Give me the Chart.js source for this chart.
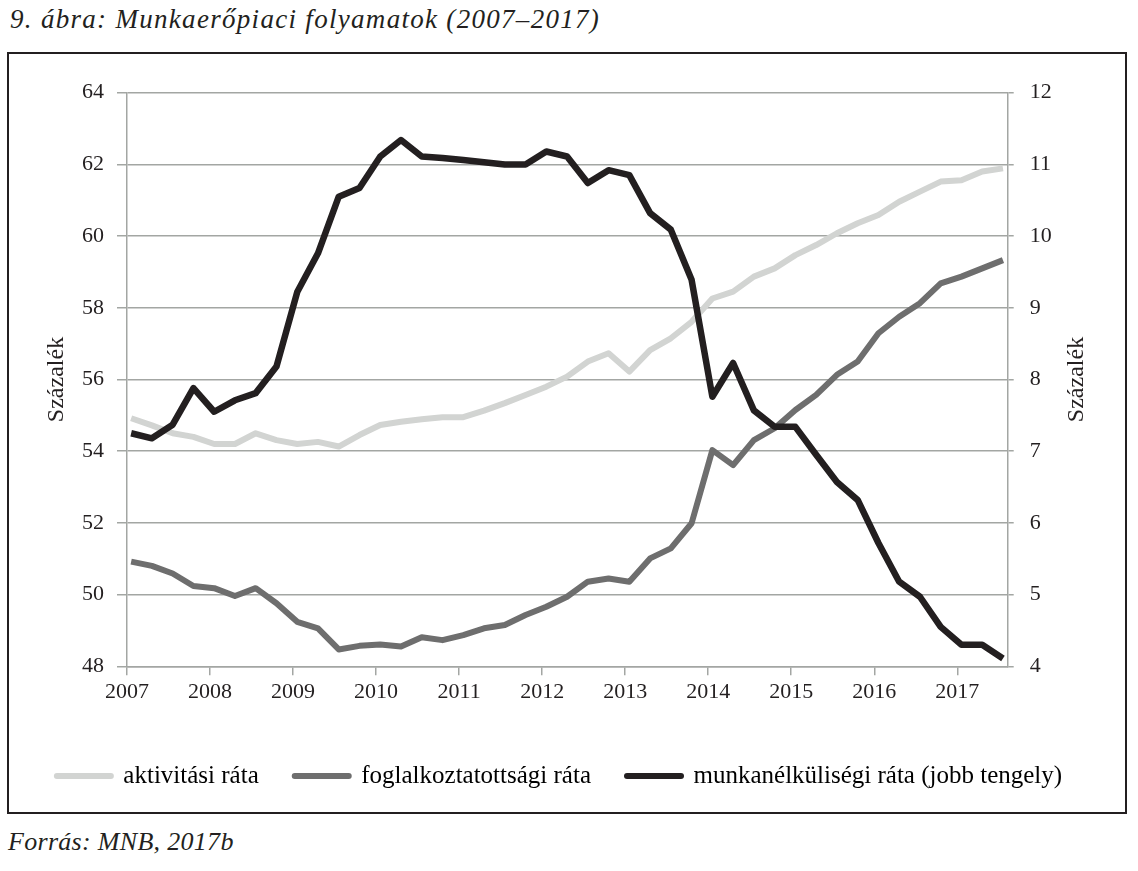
<!DOCTYPE html>
<html lang="hu">
<head>
<meta charset="utf-8">
<title>Munkaerőpiaci folyamatok (2007–2017)</title>
<script src="https://cdn.jsdelivr.net/npm/chart.js@4.4.0/dist/chart.umd.min.js"></script>
<style>
  body { margin: 0; background: #fff; width: 1138px; height: 871px; position: relative;
         font-family: "Liberation Serif", "Times New Roman", serif; color: #231f20; }
  .title { position: absolute; left: 10px; top: 4px; font-style: italic; font-size: 27px; letter-spacing: 1.3px; }
  .frame { position: absolute; left: 7px; top: 52px; width: 1116px; height: 758px; border: 2px solid #231f20; }
  .source { position: absolute; left: 8px; top: 827px; font-style: italic; font-size: 26px; letter-spacing: 0.3px; }
  canvas { display: block; }
</style>
</head>
<body>
<div class="title">9. ábra: Munkaerőpiaci folyamatok (2007–2017)</div>
<div class="frame"><canvas id="myChart" width="1116" height="758"></canvas></div>
<div class="source">Forrás: MNB, 2017b</div>

<script>
// quarterly data, 2007 Q1 - 2017 Q3
var quarters = [];
for (var yr = 2007; yr <= 2017; yr++) {
  for (var q = 1; q <= 4; q++) {
    if (quarters.length < 43) quarters.push({ year: yr, q: q });
  }
}

var years = [2007, 2008, 2009, 2010, 2011, 2012, 2013, 2014, 2015, 2016, 2017];
var leftTicks = [48, 64, 2];   // min, max, step
var rightTicks = [4, 12, 1];

var seriesNames = ['aktivitási ráta', 'foglalkoztatottsági ráta', 'munkanélküliségi ráta (jobb tengely)'];
var axisTitle = 'Százalék';

var activityRate = [
  54.92, 54.72, 54.50, 54.40, 54.20, 54.20, 54.50, 54.31, 54.20, 54.26, 54.13,
  54.45, 54.73, 54.82, 54.89, 54.95, 54.95, 55.13, 55.34, 55.57, 55.80, 56.08,
  56.50, 56.73, 56.22, 56.82, 57.15, 57.61, 58.26, 58.45, 58.87, 59.10, 59.47,
  59.75, 60.08, 60.36, 60.59, 60.96, 61.24, 61.52, 61.56, 61.80, 61.89
];
var employmentRate = [
  50.92, 50.80, 50.59, 50.24, 50.18, 49.96, 50.18, 49.76, 49.24, 49.06, 48.47,
  48.57, 48.61, 48.55, 48.81, 48.73, 48.87, 49.06, 49.15, 49.43, 49.66, 49.94,
  50.36, 50.45, 50.36, 51.01, 51.29, 51.99, 54.03, 53.61, 54.31, 54.64, 55.15,
  55.57, 56.13, 56.50, 57.29, 57.75, 58.13, 58.68, 58.87, 59.10, 59.33
];
var unemploymentRate = [
  7.25, 7.18, 7.37, 7.88, 7.55, 7.71, 7.81, 8.18, 9.22, 9.76, 10.55,
  10.67, 11.11, 11.34, 11.11, 11.09, 11.06, 11.03, 11.00, 11.00, 11.18, 11.11,
  10.74, 10.92, 10.85, 10.32, 10.09, 9.39, 7.76, 8.23, 7.57, 7.34, 7.34,
  6.95, 6.57, 6.32, 5.72, 5.18, 4.97, 4.55, 4.30, 4.30, 4.11
];

var textColor = '#231f20';
var gridColor = '#a3a6a3';

function toPoints(values) {
  return values.map(function (v, i) {
    var p = quarters[i];
    return { x: p.year + (p.q - 1) / 4 + 0.05, y: v };
  });
}

Chart.defaults.font.family = '"Liberation Serif", "Times New Roman", serif';
Chart.defaults.color = textColor;

// right axis title reads bottom-to-top, like the left one
var rightTitle = {
  id: 'rightTitle',
  afterDraw: function (chart) {
    var ctx = chart.ctx, area = chart.chartArea;
    ctx.save();
    ctx.translate(chart.scales.y1.left + 69, (area.top + area.bottom) / 2);
    ctx.rotate(-Math.PI / 2);
    ctx.font = '24px "Liberation Serif"';
    ctx.fillStyle = textColor;
    ctx.textAlign = 'center';
    ctx.textBaseline = 'middle';
    ctx.fillText(axisTitle, 0, 0);
    ctx.restore();
  }
};

var ctx = document.getElementById('myChart').getContext('2d');
var chart = new Chart(ctx, {
  type: 'line',
  data: {
    datasets: [{
      label: seriesNames[0],
      data: toPoints(activityRate),
      yAxisID: 'y',
      borderColor: '#d2d4d2',
      borderWidth: 6,
      order: 2
    }, {
      label: seriesNames[1],
      data: toPoints(employmentRate),
      yAxisID: 'y',
      borderColor: '#6e6e6e',
      borderWidth: 6,
      order: 1
    }, {
      label: seriesNames[2],
      data: toPoints(unemploymentRate),
      yAxisID: 'y1',
      borderColor: '#231f20',
      borderWidth: 6.5,
      order: 0
    }]
  },
  options: {
    responsive: false,
    animation: false,
    layout: { padding: { top: 38.7, right: 15, bottom: 13.5, left: 0 } },
    elements: {
      point: { radius: 0 },
      line: { tension: 0, borderJoinStyle: 'round', fill: false }
    },
    plugins: {
      tooltip: { enabled: false },
      legend: {
        position: 'bottom',
        labels: {
          usePointStyle: true,
          pointStyleWidth: 54,
          padding: 36,
          font: { size: 25 },
          color: textColor,
          generateLabels: function (chart) {
            return chart.data.datasets.map(function (ds, i) {
              return {
                text: ds.label,
                fillStyle: ds.borderColor,
                strokeStyle: ds.borderColor,
                lineWidth: 6,
                lineCap: 'round',
                pointStyle: 'line',
                hidden: false,
                datasetIndex: i
              };
            });
          }
        }
      }
    },
    scales: {
      x: {
        type: 'linear',
        min: years[0],
        max: 2017.607,
        afterBuildTicks: function (scale) {
          scale.ticks = years.map(function (v) { return { value: v }; });
        },
        afterFit: function (scale) { scale.height = 61.2; },
        ticks: {
          autoSkip: false,
          maxRotation: 0,
          padding: 4,
          font: { size: 22 },
          callback: function (v) { return String(v); }
        },
        grid: { drawOnChartArea: false, color: gridColor, lineWidth: 1.5, tickLength: 9 },
        border: { color: gridColor, width: 1.5 }
      },
      y: {
        position: 'left',
        min: leftTicks[0],
        max: leftTicks[1],
        ticks: { stepSize: leftTicks[2], padding: 13, font: { size: 22 } },
        grid: { color: gridColor, lineWidth: 1.5, tickLength: 10 },
        border: { color: gridColor, width: 1.5 },
        title: { display: true, text: axisTitle, font: { size: 24 }, padding: { top: 33 } },
        afterFit: function (scale) { scale.width = 118; }
      },
      y1: {
        position: 'right',
        min: rightTicks[0],
        max: rightTicks[1],
        ticks: { stepSize: rightTicks[2], padding: 16, font: { size: 22 } },
        grid: { drawOnChartArea: false, color: gridColor, lineWidth: 1.5, tickLength: 6 },
        border: { color: gridColor, width: 1.5 },
        afterFit: function (scale) { scale.width = 102.3; }
      }
    }
  },
  plugins: [rightTitle]
});
</script>
</body>
</html>
